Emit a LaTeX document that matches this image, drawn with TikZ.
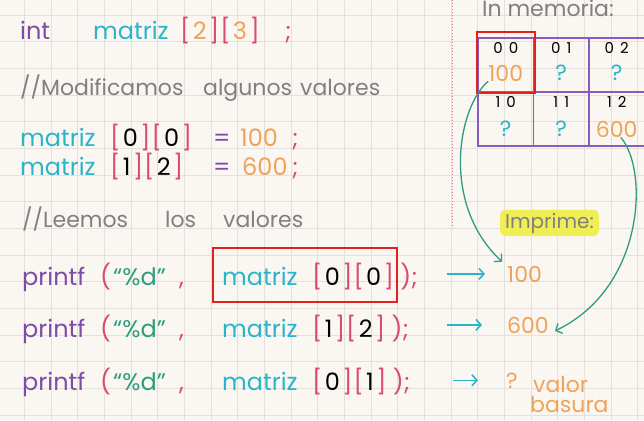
\documentclass[tikz,border=0pt]{standalone}
\usepackage{fontspec}
\setmainfont{Poppins}
\usetikzlibrary{arrows.meta}
\definecolor{fondo}{HTML}{FAF7F2}
\definecolor{rejilla}{HTML}{E4E0DB}
\definecolor{cpurple}{HTML}{7E4CA8}
\definecolor{ccyan}{HTML}{2CB5C9}
\definecolor{cpink}{HTML}{D94A6E}
\definecolor{corange}{HTML}{EFA35A}
\definecolor{cgray}{HTML}{808080}
\definecolor{cgreen}{HTML}{2E9C7E}
\definecolor{cred}{HTML}{E3201E}
\definecolor{cyellow}{HTML}{F1EE55}
\definecolor{cmem}{HTML}{8A5BBE}
\definecolor{cdots}{HTML}{E07A8A}
\newcommand{\corch}[2]{{\color{cpink}[}\kern2.5pt{#1}\kern2.5pt{\color{cpink}]\kern1pt[}\kern2.5pt{#2}\kern2.5pt{\color{cpink}]}}
\begin{document}
\begin{tikzpicture}[x=1pt,y=-1pt,
  code/.style={font=\fontsize{24}{28}\selectfont, inner sep=0pt, anchor=base west},
  note/.style={code, text=cgray, font=\fontsize{22}{26}\selectfont},
  idx/.style={font=\fontsize{15}{18}\selectfont, inner sep=0pt},
  val/.style={font=\fontsize{22}{26}\selectfont, inner sep=0pt},
  celda/.style={draw=cmem, line width=1.3pt, minimum width=55.5pt, minimum height=54pt, inner sep=0pt},
  redbox/.style={draw=cred, line width=2.5pt},
  flecha/.style={-{Straight Barb[length=5pt,width=11pt]}, ccyan, line width=1.6pt},
  curva/.style={-{Straight Barb[length=5pt,width=11pt]}, cgreen, line width=1.3pt}]
\useasboundingbox (0,0) rectangle (644,420);
\fill[fondo] (0,0) rectangle (644,420);
\foreach \i in {0,...,24} \draw[rejilla, line width=0.8pt] ({-2.2+26.67*\i},0) -- ++(0,420);
\foreach \j in {1,...,16} \draw[rejilla, line width=0.8pt] (0,{-11.7+26.67*\j}) -- ++(644,0);
\draw[cdots, dotted, line width=1pt] (452,0) -- (452,228);
\node[code, text=cpurple] (int) at (20,40) {int};
\node[code, text=ccyan] (decl) at (93,40) {matriz};
\node[code] (dims) at (180,40) {\corch{\color{corange}2}{\color{corange}3}};
\node[code, text=cpink] (sc0) at (285,40) {;};
\node[note] (cma) at (20,95) {//Modificamos};
\node[note] (cmb) at (203,95) {algunos};
\node[note] (cmc) at (300,95) {valores};
\node[code, text=ccyan] (m1) at (20,146) {matriz};
\node[code] (i1) at (110,146) {\corch{0}{0}};
\node[code, text=cpurple] (eq1) at (213,146) {=};
\node[code, text=corange] (v1) at (240,146) {100};
\node[code, text=cpink] (sc1) at (292,146) {;};
\node[code, text=ccyan] (m2) at (20,175) {matriz};
\node[code] (i2) at (110,175) {\corch{1}{2}};
\node[code, text=cpurple] (eq2) at (213,175) {=};
\node[code, text=corange] (v2) at (242,175) {600};
\node[code, text=cpink] (sc2) at (292,175) {;};
\node[note] (cla) at (22,227) {//Leemos};
\node[note] (clb) at (165,227) {los};
\node[note] (clc) at (223,227) {valores};
\foreach \y/\f/\c/\n in {285/0/0/a,337/1/2/b,390/0/1/c}{
  \node[code, text=cpurple] (pf\n) at (22,\y) {printf};
  \node[code, text=cpink] (ab\n) at (100,\y) {(};
  \node[code, text=cgreen] (fmt\n) at (113,\y) {“\%d”};
  \node[code, text=cpink] (co\n) at (179,\y) {,};
  \node[code, text=ccyan] (arg\n) at (222,\y) {matriz};
  \node[code] (ix\n) at (312,\y) {\corch{\f}{\c}};
  \node[code, text=cpink] (ci\n) at ([xshift=6pt]ix\n.base east) {);};
}
\draw[redbox] (213,248) rectangle (397,302);
\node[note] (mem) at (482,17) {In memoria:};
\foreach \r in {0,1}
  \foreach \c in {0,1,2}{
    \node[celda] (c\r\c) at ({505.75+55.5*\c},{65+54*\r}) {};
    \node[idx] (t\r\c) at ([yshift=-11pt]c\r\c.north) {\r\hspace{6pt}\c};
  }
\node[val, text=corange] (v00) at ([yshift=-8pt]c00.center) {100};
\node[val, text=ccyan] (v01) at ([yshift=-8pt]c01.center) {?};
\node[val, text=ccyan] (v02) at ([yshift=-8pt]c02.center) {?};
\node[val, text=ccyan] (v10) at ([yshift=-10pt]c10.center) {?};
\node[val, text=ccyan] (v11) at ([yshift=-10pt]c11.center) {?};
\node[val, text=corange] (v12) at ([yshift=-10pt]c12.center) {600};
\draw[redbox] (477,32) rectangle (535,93);
\node[text=cgray, font=\fontsize{20}{24}\selectfont, fill=cyellow, rounded corners=5pt, inner xsep=5pt, inner ysep=3pt, anchor=base west] (impr) at (500,228) {Imprime:};
\node[val, text=corange, anchor=base west] (o1) at (507,282) {100};
\node[val, text=corange, anchor=base west] (o2) at (507,333) {600};
\node[val, text=corange, anchor=base west] (o3) at (506,388) {?};
\node[val, text=corange, anchor=base west] (o4) at (533,392) {valor};
\node[val, text=corange, anchor=base west] (o5) at (530,412) {basura};
\draw[flecha] ([xshift=-60pt]o1.west) -- ([xshift=-22pt]o1.west);
\draw[flecha] ([xshift=-60pt]o2.west) -- ([xshift=-25pt]o2.west);
\draw[flecha] ([xshift=-53pt]o3.west) -- ([xshift=-28pt]o3.west);
\draw[curva] (v00.south west) .. controls +(-30,25) and +(-62,-58) .. ([shift={(-5pt,4pt)}]o1.north west);
\draw[curva] ([xshift=4pt]v12.south) .. controls +(28,32) and +(90,-43) .. ([shift={(6pt,-6pt)}]o2.east);
\end{tikzpicture}
\end{document}
